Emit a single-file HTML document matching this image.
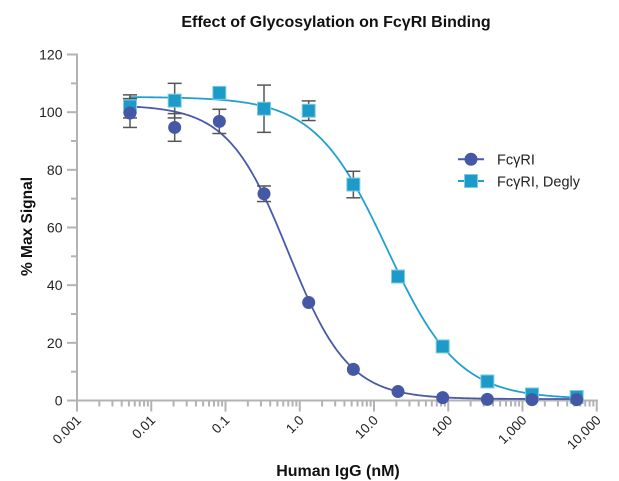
<!DOCTYPE html>
<html><head><meta charset="utf-8"><style>
html,body{margin:0;padding:0;background:#fff;}
svg{display:block;}
text{font-family:"Liberation Sans",sans-serif;}
</style></head><body>
<svg id="c" width="619" height="481" viewBox="0 0 619 481" xmlns="http://www.w3.org/2000/svg">
<text x="336" y="27" text-anchor="middle" font-size="16" font-weight="bold" fill="#111">Effect of Glycosylation on FcγRI Binding</text>
<text transform="translate(32,226.5) rotate(-90)" text-anchor="middle" font-size="15.5" font-weight="bold" fill="#111">% Max Signal</text>
<text x="338" y="476" text-anchor="middle" font-size="16" font-weight="bold" fill="#111">Human IgG (nM)</text>
<g id="axes" stroke="#b3b3b3" stroke-width="2" fill="none"></g>
<g id="ylab" font-size="14" fill="#222" text-anchor="end"></g>
<g id="xlab" font-size="13.5" fill="#222" text-anchor="end"></g>
<g id="curves" fill="none" stroke-width="1.8"></g>
<g id="err" stroke="#555" stroke-width="1.5" fill="none"></g>
<g id="marks"></g>
<g id="legend">
<line x1="458" y1="159.3" x2="484" y2="159.3" stroke="#4a5aa8" stroke-width="2"/>
<circle cx="471" cy="159.3" r="6.5" fill="#4558a5"/>
<text x="497" y="164.5" font-size="14.5" fill="#222">FcγRI</text>
<line x1="458" y1="181" x2="484" y2="181" stroke="#21a0cf" stroke-width="2"/>
<rect x="464.5" y="174.5" width="13" height="13" fill="#1d9bc8" stroke="#7fcbe3" stroke-width="1"/>
<text x="497" y="186.5" font-size="14.5" fill="#222">FcγRI, Degly</text>
</g>
</svg>
<script>
(function(){
var NS="http://www.w3.org/2000/svg";
function X(lx){return 77+(lx+3)*74.25;}
function Y(v){return 400.5-v*2.8833;}
function el(tag,attrs,parent,txt){var e=document.createElementNS(NS,tag);for(var k in attrs)e.setAttribute(k,attrs[k]);if(txt!==undefined)e.textContent=txt;parent.appendChild(e);return e;}
var axes=document.getElementById('axes'),ylab=document.getElementById('ylab'),xlab=document.getElementById('xlab');
// y axis
el('line',{x1:77,y1:53.5,x2:77,y2:401.5},axes);
for(var v=0;v<=120;v+=10){var y=Y(v);var major=(v%20===0);
 el('line',{x1:major?67:71,y1:y,x2:77,y2:y},axes);
 if(major) el('text',{x:62.5,y:y+5},ylab,String(v));}
// x axis
el('line',{x1:76,y1:400.5,x2:598,y2:400.5},axes);
var labs=['0.001','0.01','0.1','1.0','10.0','100','1,000','10,000'];
for(var d=-3;d<=4;d++){var x=X(d);
 el('line',{x1:x,y1:400.5,x2:x,y2:411.5},axes);
 var t=el('text',{transform:'translate('+(x+5)+',421) rotate(-45)'},xlab,labs[d+3]);
 if(d<4){for(var k=2;k<=9;k++){var xm=X(d+Math.log10(k));el('line',{x1:xm,y1:400.5,x2:xm,y2:406.5},axes);}}
}
// curves
function curve(T,B,lc,h,color){var pts=[];for(var lx=-2.3;lx<=3.75;lx+=0.02){var v=B+(T-B)/(1+Math.pow(10,(lx-lc)*h));pts.push(X(lx).toFixed(2)+','+Y(v).toFixed(2));}
 el('polyline',{points:pts.join(' '),stroke:color},document.getElementById('curves'));}
curve(105.3,0.5,1.17,0.9,'#21a0cf');
curve(102.5,0.5,-0.155,1.07,'#4a5aa8');
// data
var xs=[];for(var i=0;i<11;i++)xs.push(130+44.67*i);
var sq=[102,104,106.7,101.2,100.5,74.9,43,18.75,6.6,2.1,1.2];
var sqe=[4,6,0,8.2,3.4,4.6,0,0,0,0,0];
var ci=[99.7,94.7,96.8,71.7,34,10.8,3.1,1.0,0.4,0.3,0.3];
var cie=[5,4.8,4.2,2.7,0,0,0,0,0,0,0];
var err=document.getElementById('err'),marks=document.getElementById('marks');
function eb(x,v,e){if(!e)return;var y1=Y(v+e),y2=Y(v-e);
 el('line',{x1:x,y1:y1,x2:x,y2:y2},err);el('line',{x1:x-7,y1:y1,x2:x+7,y2:y1},err);el('line',{x1:x-7,y1:y2,x2:x+7,y2:y2},err);}
for(var i=0;i<11;i++){eb(xs[i],sq[i],sqe[i]);eb(xs[i],ci[i],cie[i]);}
for(var i=0;i<11;i++){el('rect',{x:xs[i]-6.5,y:Y(sq[i])-6.5,width:13,height:13,fill:'#1d9bc8',stroke:'#7fcbe3','stroke-width':1},marks);}
for(var i=0;i<11;i++){el('circle',{cx:xs[i],cy:Y(ci[i]),r:6.5,fill:'#4558a5'},marks);}
})();
</script>
</body></html>
